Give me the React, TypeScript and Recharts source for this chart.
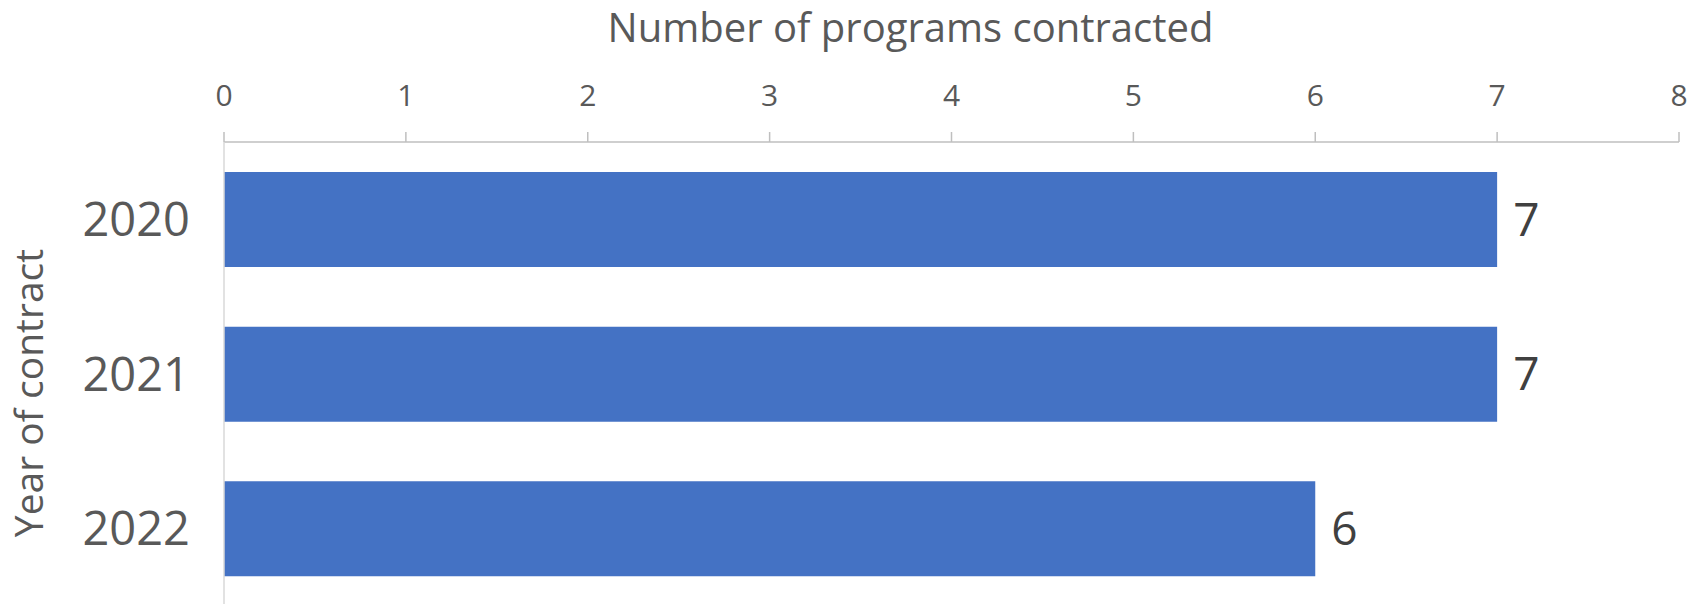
import React from 'react';
import {BarChart, Bar, XAxis, YAxis, LabelList, Label} from 'recharts';

const years = ['2020', '2021', '2022'];
const programs = [7, 7, 6];
const xTicks = [0, 1, 2, 3, 4, 5, 6, 7, 8];

const data = years.map((year, i) => ({year, programs: programs[i]}));

const FONT = '"Open Sans", "Noto Sans", sans-serif';

const XTitle = (props: any) => {
    const vb = props.viewBox;
    const x = vb.x + vb.width / 2 - 41;
    return (
        <text x={x} y={42} textAnchor="middle" fontSize={40} fill="#595959" fontFamily={FONT}>
            Number of programs contracted
        </text>
    );
};

const YTitle = (props: any) => {
    const vb = props.viewBox;
    const y = vb.y + vb.height / 2 + 19;
    return (
        <text x={43} y={y} transform={`rotate(-90, 43, ${y})`} textAnchor="middle" fontSize={39} fill="#595959" fontFamily={FONT}>
            Year of contract
        </text>
    );
};

const App = () => {
    return (
        <div style={{position: 'absolute', left: 0, top: 0, width: 1701, height: 604, overflow: 'hidden', background: '#fff'}}>
            <BarChart
                width={1701}
                height={606}
                data={data}
                layout="vertical"
                margin={{top: 0, right: 22, bottom: 0, left: 0}}
                barSize={95}
            >
                <XAxis
                    type="number"
                    orientation="top"
                    domain={[0, 8]}
                    ticks={xTicks}
                    interval={0}
                    height={142}
                    stroke="#bfbfbf"
                    strokeWidth={1.5}
                    tickSize={10}
                    tickMargin={26}
                    tick={{fontSize: 30, fill: '#595959', fontFamily: FONT}}
                >
                    <Label content={<XTitle />} />
                </XAxis>
                <YAxis
                    type="category"
                    dataKey="year"
                    width={224}
                    stroke="#d9d9d9"
                    strokeWidth={1.5}
                    tickLine={false}
                    tickSize={0}
                    tickMargin={34}
                    tick={{fontSize: 47, fill: '#595959', fontFamily: FONT}}
                >
                    <Label content={<YTitle />} />
                </YAxis>
                <Bar dataKey="programs" fill="#4472c4" isAnimationActive={false}>
                    <LabelList dataKey="programs" position="right" offset={16} fontSize={46} fill="#404040" fontFamily={FONT} />
                </Bar>
            </BarChart>
        </div>
    );
};

export default App;
